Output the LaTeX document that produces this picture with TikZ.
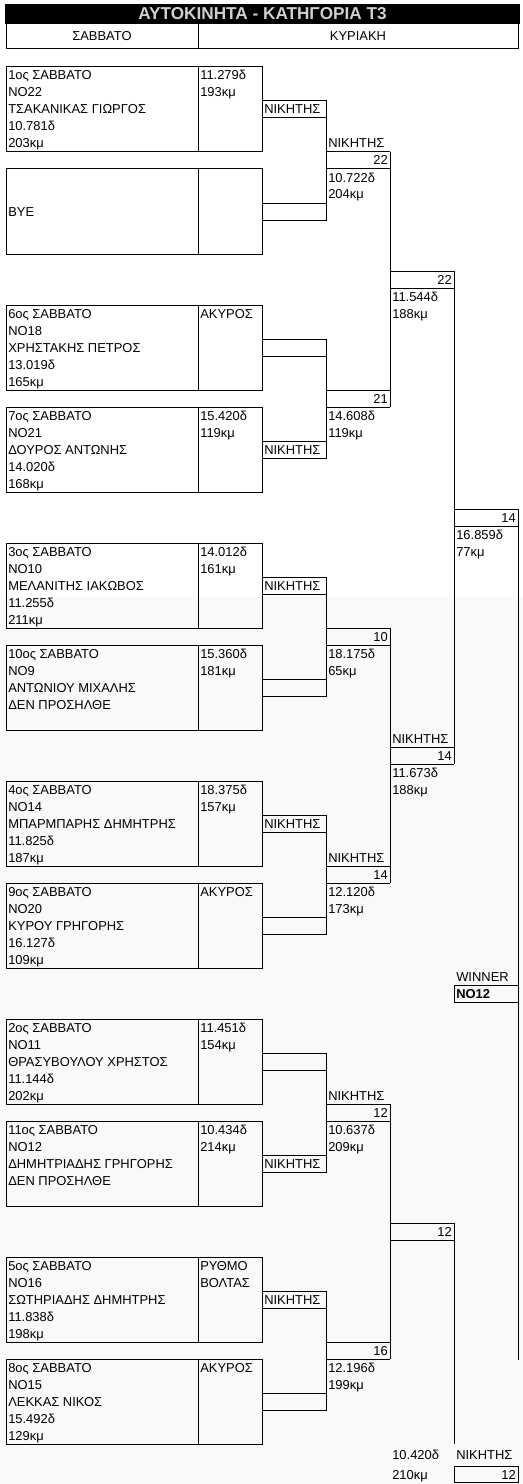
\documentclass[tikz,border=0pt]{standalone}
\usepackage{fontspec}
\setmainfont{Liberation Sans}
\definecolor{bgc}{HTML}{F9F9F9}
\definecolor{titlegray}{HTML}{D0D0D0}
\newcounter{tn}
\newcommand\tx[4][txt]{\if\relax\detokenize{#4}\relax\else\stepcounter{tn}\node[#1] (t\arabic{tn}) at (#2,#3) {#4};\fi}
% entry: #1 name, #2 top y, #3-#7 left lines, #8 #9 right lines
\newcommand\entry[9]{%
  \node[cellbox, minimum width=144pt, anchor=north west] (#1n) at (6,#2) {};
  \node[cellbox, minimum width=48pt, anchor=north west] (#1r) at (198,#2) {};
  \pgfmathsetmacro\ya{#2+13}\pgfmathsetmacro\yb{#2+30}\pgfmathsetmacro\yc{#2+47}%
  \pgfmathsetmacro\yd{#2+64}\pgfmathsetmacro\ye{#2+81}%
  \tx{8}{\ya}{#3}\tx{8}{\yb}{#4}\tx{8}{\yc}{#5}\tx{8}{\yd}{#6}\tx{8}{\ye}{#7}%
  \tx{200}{\ya}{#8}\tx{200}{\yb}{#9}%
}
% bracket: #1 pair prefix, #2 top y, #3 top label, #4 bottom label, #5 value, #6 label above, #7 #8 times
\newcommand\bracket[8]{%
  \pgfmathsetmacro\ya{#2+34}\pgfmathsetmacro\yb{#2+51}%
  \pgfmathsetmacro\yc{#2+136}\pgfmathsetmacro\yd{#2+153}%
  \pgfmathsetmacro\ye{#2+85}\pgfmathsetmacro\yf{#2+102}%
  \coordinate (#1a) at (326,\ya);\coordinate (#1b) at (326,\yb);
  \coordinate (#1c) at (326,\yc);\coordinate (#1d) at (326,\yd);
  \coordinate (#1e) at (326,\ye);\coordinate (#1f) at (326,\yf);
  \coordinate (#1g) at (390,\ye);\coordinate (#1h) at (390,\yf);
  \draw[ln] (#1tr.east |- #1a) -- (#1a) -- (#1d) -- (#1br.east |- #1d);
  \draw[ln] (#1tr.east |- #1b) -- (#1b);
  \draw[ln] (#1br.east |- #1c) -- (#1c);
  \draw[ln] (#1e) -- (#1g);
  \draw[ln] (#1f) -- (#1h);
  \pgfmathsetmacro\ya{#2+47}\pgfmathsetmacro\yc{#2+149}%
  \pgfmathsetmacro\yg{#2+81}\pgfmathsetmacro\ye{#2+98}%
  \pgfmathsetmacro\yf{#2+115}\pgfmathsetmacro\yh{#2+132}%
  \tx{264}{\ya}{#3}\tx{264}{\yc}{#4}%
  \tx[txtr]{388}{\ye}{#5}\tx{328}{\yg}{#6}%
  \tx{328}{\yf}{#7}\tx{328}{\yh}{#8}%
}
% group: #1 name, #2 #3 pair prefixes, #4 top y of first pair, #5 value, #6 label, #7 #8 times
\newcommand\group[8]{%
  \pgfmathsetmacro\ya{#4+204}\pgfmathsetmacro\yb{#4+221}%
  \coordinate (#1i) at (390,\ya);\coordinate (#1j) at (390,\yb);
  \coordinate (#1k) at (454,\ya);\coordinate (#1l) at (454,\yb);
  \draw[ln] (#2g) -- (#3h);
  \draw[ln] (#1i) -- (#1k);
  \draw[ln] (#1j) -- (#1l);
  \pgfmathsetmacro\ya{#4+217}\pgfmathsetmacro\yb{#4+200}%
  \pgfmathsetmacro\yc{#4+234}\pgfmathsetmacro\yd{#4+251}%
  \tx[txtr]{452}{\ya}{#5}\tx{392}{\yb}{#6}%
  \tx{392}{\yc}{#7}\tx{392}{\yd}{#8}%
}
\begin{document}
\begin{tikzpicture}[x=0.75pt,y=-0.75pt,
  txt/.style={inner sep=0pt, anchor=base west, font=\fontsize{9.7}{11}\selectfont, text=black},
  txtr/.style={txt, anchor=base east},
  cellbox/.style={draw=black, line width=0.75pt, inner sep=0pt, outer sep=0pt, minimum height=63.75pt},
  ln/.style={draw=black, line width=0.75pt},
  hdr/.style={draw=black, line width=0.75pt, inner sep=0pt, outer sep=0pt, minimum height=18.75pt, anchor=north west, font=\fontsize{9.7}{11}\selectfont},
]
\useasboundingbox (0,0) rectangle (523,1484);
\fill[white] (0,0) rectangle (523,1484);
\fill[bgc] (0,597) rectangle (523,1484);
% title and header
\node[fill=black, inner sep=0pt, outer sep=0pt, minimum width=386.25pt, minimum height=15pt, anchor=north west, text=titlegray, font=\fontsize{12.9}{14}\selectfont\bfseries] (title) at (5,4) {ΑΥΤΟΚΙΝΗΤΑ - ΚΑΤΗΓΟΡΙΑ Τ3};
\node[hdr, minimum width=144pt] (hsat) at (6,24) {ΣΑΒΒΑΤΟ};
\node[hdr, minimum width=240pt] (hsun) at (198,24) {ΚΥΡΙΑΚΗ};
% entries
\entry{p0t}{67}{1ος ΣΑΒΒΑΤΟ}{NO22}{ΤΣΑΚΑΝΙΚΑΣ ΓΙΩΡΓΟΣ}{10.781δ}{203κμ}{11.279δ}{193κμ}
\entry{p0b}{169}{}{}{BYE}{}{}{}{}
\entry{p1t}{305}{6ος ΣΑΒΒΑΤΟ}{NO18}{ΧΡΗΣΤΑΚΗΣ ΠΕΤΡΟΣ}{13.019δ}{165κμ}{ΑΚΥΡΟΣ}{}
\entry{p1b}{407}{7ος ΣΑΒΒΑΤΟ}{NO21}{ΔΟΥΡΟΣ ΑΝΤΩΝΗΣ}{14.020δ}{168κμ}{15.420δ}{119κμ}
\entry{p2t}{543}{3ος ΣΑΒΒΑΤΟ}{NO10}{ΜΕΛΑΝΙΤΗΣ ΙΑΚΩΒΟΣ}{11.255δ}{211κμ}{14.012δ}{161κμ}
\entry{p2b}{645}{10ος ΣΑΒΒΑΤΟ}{NO9}{ΑΝΤΩΝΙΟΥ ΜΙΧΑΛΗΣ}{ΔΕΝ ΠΡΟΣΗΛΘΕ}{}{15.360δ}{181κμ}
\entry{p3t}{781}{4ος ΣΑΒΒΑΤΟ}{NO14}{ΜΠΑΡΜΠΑΡΗΣ ΔΗΜΗΤΡΗΣ}{11.825δ}{187κμ}{18.375δ}{157κμ}
\entry{p3b}{883}{9ος ΣΑΒΒΑΤΟ}{NO20}{ΚΥΡΟΥ ΓΡΗΓΟΡΗΣ}{16.127δ}{109κμ}{ΑΚΥΡΟΣ}{}
\entry{p4t}{1019}{2ος ΣΑΒΒΑΤΟ}{NO11}{ΘΡΑΣΥΒΟΥΛΟΥ ΧΡΗΣΤΟΣ}{11.144δ}{202κμ}{11.451δ}{154κμ}
\entry{p4b}{1121}{11ος ΣΑΒΒΑΤΟ}{NO12}{ΔΗΜΗΤΡΙΑΔΗΣ ΓΡΗΓΟΡΗΣ}{ΔΕΝ ΠΡΟΣΗΛΘΕ}{}{10.434δ}{214κμ}
\entry{p5t}{1257}{5ος ΣΑΒΒΑΤΟ}{NO16}{ΣΩΤΗΡΙΑΔΗΣ ΔΗΜΗΤΡΗΣ}{11.838δ}{198κμ}{ΡΥΘΜΟ}{ΒΟΛΤΑΣ}
\entry{p5b}{1359}{8ος ΣΑΒΒΑΤΟ}{NO15}{ΛΕΚΚΑΣ ΝΙΚΟΣ}{15.492δ}{129κμ}{ΑΚΥΡΟΣ}{}
% round 1 and 2
\bracket{p0}{67}{ΝΙΚΗΤΗΣ}{}{22}{ΝΙΚΗΤΗΣ}{10.722δ}{204κμ}
\bracket{p1}{305}{}{ΝΙΚΗΤΗΣ}{21}{}{14.608δ}{119κμ}
\bracket{p2}{543}{ΝΙΚΗΤΗΣ}{}{10}{}{18.175δ}{65κμ}
\bracket{p3}{781}{ΝΙΚΗΤΗΣ}{}{14}{ΝΙΚΗΤΗΣ}{12.120δ}{173κμ}
\bracket{p4}{1019}{}{ΝΙΚΗΤΗΣ}{12}{ΝΙΚΗΤΗΣ}{10.637δ}{209κμ}
\bracket{p5}{1257}{ΝΙΚΗΤΗΣ}{}{16}{}{12.196δ}{199κμ}
% round 3
\group{g0}{p0}{p1}{67}{22}{}{11.544δ}{188κμ}
\group{g1}{p2}{p3}{543}{14}{ΝΙΚΗΤΗΣ}{11.673δ}{188κμ}
\group{g2}{p4}{p5}{1019}{12}{}{}{}
% round 4 and final
\coordinate (f0a) at (454,509);\coordinate (f0b) at (518,509);
\coordinate (f0c) at (454,526);\coordinate (f0d) at (518,526);
\coordinate (fend) at (518,1360);
\coordinate (fbot) at (454,1444);
\draw[ln] (g0k) -- (g1l);
\draw[ln] (f0a) -- (f0b) -- (fend);
\draw[ln] (f0c) -- (f0d);
\tx[txtr]{516}{522}{14}
\tx{456}{539}{16.859δ}
\tx{456}{556}{77κμ}
\tx{456}{981}{WINNER}
\node[draw=black, line width=0.75pt, inner sep=0pt, outer sep=0pt, minimum width=48pt, minimum height=12.75pt, anchor=north west] (win) at (454,985) {};
\node[txt, font=\fontsize{9.7}{11}\selectfont\bfseries] (winname) at (456,998) {NO12};
\draw[ln] (g2k) -- (fbot);
\node[draw=black, line width=0.75pt, inner sep=0pt, outer sep=0pt, minimum width=48pt, minimum height=12.3pt, anchor=north west] (fin) at (454,1466) {};
\tx[txtr]{516}{1479}{12}
\tx{456}{1459}{ΝΙΚΗΤΗΣ}
\tx{392}{1459}{10.420δ}
\tx{392}{1479}{210κμ}
\end{tikzpicture}
\end{document}
